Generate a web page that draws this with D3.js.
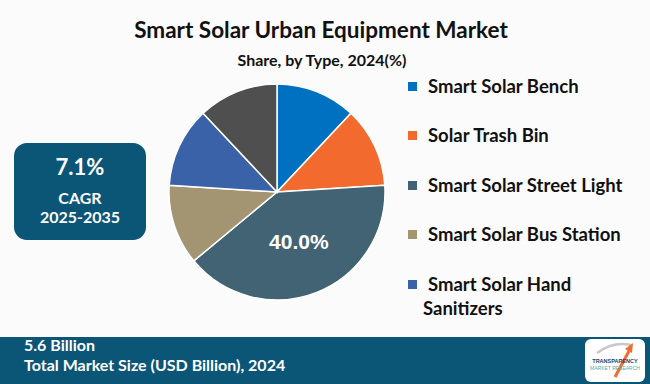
<!DOCTYPE html>
<html><head><meta charset="utf-8">
<script src="https://cdn.jsdelivr.net/npm/d3@7"></script>
<style>html,body{margin:0;padding:0;background:#fbfbfb;}svg{display:block;}</style>
</head><body>
<div id="chart"></div>
<script>
const categories = ["Smart Solar Bench","Solar Trash Bin","Smart Solar Street Light","Smart Solar Bus Station","Smart Solar Hand Sanitizers","Others"];
const shares = [12, 12, 40, 12, 12, 12];
const colors = ["#0070c0","#f26a2e","#416374","#a39572","#3a62a8","#4f4f4f"];
const legendItems = ["Smart Solar Bench","Solar Trash Bin","Smart Solar Street Light","Smart Solar Bus Station","Smart Solar Hand Sanitizers"];
const titleText = "Smart Solar Urban Equipment Market";
const subtitleText = "Share, by Type, 2024(%)";
const cagrValue = "7.1%";
const cagrLabel = ["CAGR","2025-2035"];
const marketSize = "5.6 Billion";
const marketLabel = "Total Market Size (USD Billion), 2024";

const W = 650, H = 384;
const svg = d3.select("#chart").append("svg").attr("width", W).attr("height", H);
svg.append("rect").attr("width", W).attr("height", H).attr("fill", "#fbfbfb");

const font = "Lato, 'Open Sans', sans-serif";
svg.append("text").attr("x", 321).attr("y", 38).attr("text-anchor","middle")
  .attr("font-family", font).attr("font-weight","bold").attr("font-size", 22.5).attr("fill","#111").text(titleText);
svg.append("text").attr("x", 322).attr("y", 66).attr("text-anchor","middle")
  .attr("font-family", font).attr("font-weight","bold").attr("font-size", 16).attr("fill","#111").text(subtitleText);

// Pie
const cx = 277, cy = 192, R = 108;
const pie = d3.pie().sort(null).value(d => d)(shares);
const arc = d3.arc().innerRadius(0).outerRadius(R);
const g = svg.append("g").attr("transform", `translate(${cx},${cy})`);
g.selectAll("path").data(pie).join("path")
  .attr("d", arc).attr("fill", (d,i) => colors[i])
  .attr("stroke", "#fff").attr("stroke-width", 1.5);
const big = pie[2];
const c = arc.centroid(big);
g.append("text").attr("x", c[0] + 2).attr("y", c[1] - 1).attr("dy","0.35em").attr("text-anchor","middle")
  .attr("font-family","'Liberation Sans', Arial, sans-serif").attr("font-weight","bold").attr("font-size", 21)
  .attr("fill","#fff").text(d3.format(".1f")(shares[2]) + "%");

// CAGR box
svg.append("rect").attr("x", 14).attr("y", 143).attr("width", 132).attr("height", 97).attr("rx", 13)
  .attr("fill", "#0b5577");
svg.append("text").attr("x", 80).attr("y", 175).attr("text-anchor","middle").attr("font-family", font)
  .attr("font-weight","bold").attr("font-size", 22).attr("fill","#fff").text(cagrValue);
svg.append("text").attr("x", 80).attr("y", 204).attr("text-anchor","middle").attr("font-family", font)
  .attr("font-weight","bold").attr("font-size", 16).attr("fill","#fff").text(cagrLabel[0]);
svg.append("text").attr("x", 80).attr("y", 223).attr("text-anchor","middle").attr("font-family", font)
  .attr("font-weight","bold").attr("font-size", 16).attr("fill","#fff").text(cagrLabel[1]);

// Legend
const legY = [87, 136, 186, 235, 285];
const leg = svg.append("g");
const legFs = 18.5;
legendItems.forEach((name, i) => {
  const y = legY[i];
  leg.append("rect").attr("x", 408).attr("y", y - 5).attr("width", 9).attr("height", 9).attr("fill", colors[i]);
  if (name === "Smart Solar Hand Sanitizers") {
    leg.append("text").attr("x", 428).attr("y", y).attr("dy","0.35em").attr("font-family", font)
      .attr("font-weight","bold").attr("font-size", legFs).attr("fill","#111").text("Smart Solar Hand");
    leg.append("text").attr("x", 423).attr("y", y + 24).attr("dy","0.35em").attr("font-family", font)
      .attr("font-weight","bold").attr("font-size", legFs).attr("fill","#111").text("Sanitizers");
  } else {
    leg.append("text").attr("x", 428).attr("y", y).attr("dy","0.35em").attr("font-family", font)
      .attr("font-weight","bold").attr("font-size", legFs).attr("fill","#111").text(name);
  }
});

// Footer
svg.append("rect").attr("x", 0).attr("y", 337).attr("width", W).attr("height", H - 337).attr("fill", "#0b5577");
svg.append("text").attr("x", 24).attr("y", 345).attr("dy","0.35em").attr("font-family", font)
  .attr("font-weight","bold").attr("font-size", 16).attr("fill","#fff").text(marketSize);
svg.append("text").attr("x", 24).attr("y", 365).attr("dy","0.35em").attr("font-family", font)
  .attr("font-weight","bold").attr("font-size", 16).attr("fill","#fff").text(marketLabel);

// Logo
const lg = svg.append("g").attr("transform","translate(585,339)");
lg.append("rect").attr("width", 60).attr("height", 43).attr("rx", 6).attr("fill", "#fff");
lg.append("path").attr("d","M12,14 Q28,2 46,6").attr("fill","none").attr("stroke","#c8c8c8").attr("stroke-width",2.5);
lg.append("path").attr("d","M30,38 L44,12").attr("stroke","#f26a2e").attr("stroke-width",3);
lg.append("path").attr("d","M40,10 L48,4 L47,14 Z").attr("fill","#f26a2e");
lg.append("text").attr("x", 30).attr("y", 24).attr("text-anchor","middle").attr("font-family","'Liberation Sans', Arial")
  .attr("font-weight","bold").attr("font-size", 5.5).attr("fill","#1d3f6e").text("TRANSPARENCY");
lg.append("text").attr("x", 30).attr("y", 31).attr("text-anchor","middle").attr("font-family","'Liberation Sans', Arial")
  .attr("font-size", 5).attr("fill","#5aa9a0").text("MARKET RESEARCH");
</script>
</body></html>
